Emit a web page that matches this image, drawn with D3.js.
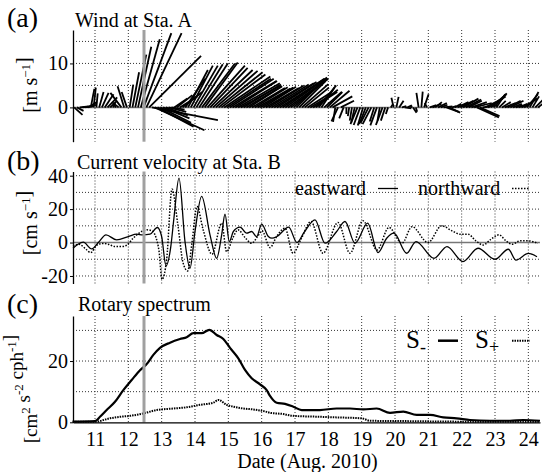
<!DOCTYPE html>
<html>
<head>
<meta charset="utf-8">
<script src="https://cdn.jsdelivr.net/npm/d3@7"></script>
<style>
  body { margin: 0; background: #fff; }
  svg { display: block; }
  text { font-family: "Liberation Serif", "Times New Roman", serif; fill: #000; }
</style>
</head>
<body>
<script>
// ---- data ----
var dayTicks = [11, 12, 13, 14, 15, 16, 17, 18, 19, 20, 21, 22, 23, 24];
var eventDay = 12.47;   // gray marker

// (a) wind sticks, 2-hourly from Aug 10 09:00 (u east, v north, m/s)
var windStart = 10.375, windStep = 1 / 12;
var windU = [
  1.9, 1.5, 2, 2.5, 2.5, 2, 0.8, 0.5, 0.3, 1, 1.5, 2,
  2.2, 1.5, 0.5, -0.5, -1.5, -2.5, -1.5, -1.2, 0.8, 1.5, 2.5, 3,
  4.3, 6.3, 8, 11.8, 15, 11.3, 8.2, 7, 6, 5, 4, 3,
  3, 3.5, 4, 4.5, 4.5, 4.5, 5, 5.5, 6, 6.5, 7.5, 7.5,
  8.5, 8.5, 9, 9.5, 10, 10, 10.5, 10, 10, 10, 9.5, 9.5,
  9, 8.5, 8, 7.5, 7.5, 7.5, 7.5, 7.5, 7.5, 7.5, 8, 8.5,
  9, 9, 9.5, 9.5, 9.5, 9, 8.5, 7.5, 6.5, 6, 6, 5.5,
  5.5, 5, 5.5, 5, 4, 3, 4, 3.5, 4.5, 4.5, -0.5, -1.5,
  3, -1, 0, -0.3, -0.5, -0.8, -1.6, -1.5, -1.2, -1.5, -1.8, -2,
  -1, -1.5, -0.5, -1.5, -1, -0.5, 0.5, -0.5, 0.5, 1, 1, 1.5,
  1, 0.5, 0.8, 0.3, -0.5, 0.3, 1, -0.5, 1.5, 2, 1.5, 2,
  1.5, 2, 2.8, 2.5, 1, 1.5, 2.5, 3, 3.5, 3.5, 3, 3.5,
  4, 5, 4.5, 3.5, 4, 4, 3.5, 3, 2, 1.5, 2, 2.5,
  3, 3, 2, 1.5, 2, 2.5, 3, 2.5, 2, 1.5, 2, 2
];
var windV = [
  -1.7, -0.8, 0.2, 0.3, 0.6, 1.2, 4.2, 4.5, 3.2, 3.5, 3.3, 3,
  2.3, 1.5, 1, 0.8, 1.2, 3.3, 4.8, 3.5, 5.2, 8, 12, 13.8,
  15.5, 16.9, 16.9, 11.7, -2.9, -5.2, -4.4, -3.5, -2.5, -1.8, -1, -0.5,
  2, 2.8, 2.5, 3.5, 6.5, 8.5, 9.5, 9.5, 9.8, 10, 10, 10.2,
  9.5, 9, 8.5, 8.3, 8, 7.5, 7, 6.5, 6.5, 6, 6, 5.5,
  5, 5.2, 4.8, 4.8, 4.4, 4.6, 4.3, 4.5, 4.7, 4.4, 5, 5.2,
  5.5, 5.8, 6, 6.5, 6.8, 6.5, 6.5, 6.5, 6.5, 6, 5.3, 4.5,
  3.5, 3, 3.5, 4, 5, 4.5, 3.5, 3.5, 3.8, 2.5, -3.3, -3.2,
  1.5, -2.5, -1.5, -2, -3, -3.5, -3.8, -4, -4.1, -3.8, -3.5, -3.8,
  -3.2, -4.1, -3, -4, -3, -1.5, 0.8, 2.2, 2.4, 1.5, 0.3, -0.2,
  0.5, 0.2, -1.2, -1, 3.3, 3.6, 3, 1, 0.5, 0.8, 1.2, 1,
  0.6, 0.2, -1, -1.2, 0.3, 0.8, 1.2, 1.5, 2, 1.8, 1.5, 1.2,
  1, -2.3, -2, 0.5, 2, 2.5, 3, 3.2, 3, 1.5, 1.2, 1,
  1.5, 1.5, 0.8, 0.5, 0.8, 1.2, 2, 3, 3.5, 2.5, 2, 1.5
];

// (b) current velocity at Sta. B (cm/s)
var eastT = [10.34, 10.49, 10.65, 10.90, 11.10, 11.33, 11.65, 12.00, 12.25, 12.43, 12.65, 12.87,
  13.00, 13.13, 13.27, 13.37, 13.52, 13.70, 13.85, 14.00, 14.20, 14.45, 14.65, 14.80, 14.90,
  15.03, 15.15, 15.35, 15.55, 15.70, 15.85, 16.00, 16.20, 16.31, 16.46, 16.81, 17.06, 17.27,
  17.60, 17.90, 18.25, 18.50, 18.80, 19.18, 19.49, 19.75, 19.97, 20.35, 20.63, 21.17, 21.56,
  22.04, 22.49, 23.00, 23.40, 23.63, 24.00, 24.26];
var eastV = [-3.4, -1, 0.2, -3.8, 0, 4.6, 1.6, 3.6, 5, 4.6, 5, 9,
  3.6, -14, -3, 15, 38.5, 0.6, -15.4, 6.6, 27.6, 4.6, -9.4, 4.6, 17,
  0.6, 6.6, 9.2, 5.6, 6.6, 3.6, 11, 3.6, 2.6, 3.6, 9.2, 0, 6,
  13.6, -0.4, 6.6, 12.6, -0.4, 11.6, -6, 2.6, 5.6, -6.4, 0.6, -9.4, -2.4,
  -11.4, -3.4, -10, -4, -10.5, -6.5, -8.5];
var northT = [10.34, 10.52, 10.73, 10.87, 11.06, 11.24, 11.39, 11.60, 11.81, 11.96, 12.14, 12.35,
  12.56, 12.71, 12.83, 12.92, 13.01, 13.15, 13.31, 13.49, 13.64, 13.78, 13.91, 14.06, 14.24,
  14.51, 14.80, 14.95, 15.14, 15.29, 15.50, 15.70, 15.89, 16.01, 16.25, 16.46, 16.70, 16.94,
  17.18, 17.48, 17.84, 18.29, 18.65, 19.04, 19.46, 19.82, 20.21, 20.51, 20.99, 21.40, 21.71,
  21.95, 22.19, 22.43, 22.64, 22.88, 23.12, 23.33, 23.51, 23.75, 23.99, 24.29];
var northV = [-2, -1, -4, -6, -1.5, -0.5, -1, -2.4, -2.4, -1.5, 2.5, 6,
  7.6, 7, 3, -5, -22, -10, 32, 10, -12, -17, 0, 21.6, 8,
  -7, 11.6, -5.5, 3, 7.6, 3, -0.4, 4, 7, -3, 4, 8.6, -6.4,
  2, 12.6, -6.4, 12, -6.4, 13, -4.4, 9, -0.4, 9.5, 0, 10, 7,
  5, 5, 1, -1.5, 2, 4.6, 1, -1, 1, 1, -0.5];

// (c) rotary spectrum (cm^2 s^-2 cph^-1)
var sMinusT = [10.33, 11.00, 11.15, 11.35, 11.60, 11.85, 12.10, 12.35, 12.55, 12.75, 12.95, 13.25,
  13.55, 13.75, 13.95, 14.20, 14.43, 14.65, 14.85, 15.05, 15.30, 15.50, 15.70, 15.95, 16.15,
  16.25, 16.45, 16.70, 16.95, 17.20, 17.75, 18.25, 18.65, 19.05, 19.45, 19.85, 20.25, 20.65,
  21.05, 21.45, 21.85, 22.25, 22.85, 23.45, 23.85, 24.35];
var sMinusV = [0.2, 0.4, 1.8, 4, 6.7, 10.5, 13.8, 17, 19, 22, 24.3, 26,
  27.2, 27.8, 29.1, 29.1, 30.2, 28.5, 27.2, 24.3, 20.9, 17.1, 14.4, 12.4, 10.5,
  8.6, 6.4, 6, 5.1, 4, 4, 4.5, 4.5, 4.2, 4.5, 3.1, 3.5, 2.4,
  2.4, 1.6, 1.3, 0.75, 0.5, 0.5, 0.75, 0.5];
var sPlusT = [10.33, 11.00, 11.45, 11.75, 12.05, 12.45, 12.85, 13.35, 13.75, 14.15, 14.55, 14.70,
  14.95, 15.15, 15.45, 15.75, 16.15, 16.25, 16.65, 16.95, 17.75, 18.25, 19.00, 19.25, 20.25,
  22.25, 24.35];
var sPlusV = [0.2, 0.2, 1.3, 1.8, 2.1, 2.9, 4, 4.5, 4.9, 5.7, 6.4, 7.3,
  5.7, 5.1, 4.5, 4.2, 3.4, 3.1, 2.7, 2.1, 1.8, 1.6, 1.3, 0.5, 0.4,
  0.2, 0.2];

// ---- layout ----
var w = 542, h = 472;
var left = 73, right = 540;

var svg = d3.select("body").append("svg")
  .attr("width", w)
  .attr("height", h);

var x = d3.scaleLinear().domain([10.34, 24.35]).range([left, right]);

var yA = d3.scaleLinear().domain([-7.8, 17.6]).range([141.7, 30]);
var yB = d3.scaleLinear().domain([-24.5, 42.5]).range([283.5, 171.5]);
var yC = d3.scaleLinear().domain([0, 34.7]).range([422.3, 316]);

var panels = [
  { y: yA, grid: [-5, 5, 10, 15], ticks: [0, 10], zero: true },
  { y: yB, grid: [-20, -10, 10, 20, 30, 40], ticks: [-20, 0, 20, 40], zero: true },
  { y: yC, grid: [10, 20, 30], ticks: [0, 20], zero: false }
];

var fmt = function(d) { return d < 0 ? "-" + Math.abs(d) : "" + d; };

panels.forEach(function(p) {
  var g = svg.append("g");
  var r = p.y.range();
  // vertical day grid
  g.selectAll(".vg").data(dayTicks).enter().append("line")
    .attr("x1", d => x(d)).attr("x2", d => x(d))
    .attr("y1", r[1]).attr("y2", r[0])
    .attr("stroke", "#333").attr("stroke-width", 1)
    .attr("stroke-dasharray", "1,2");
  // horizontal grid
  g.selectAll(".hg").data(p.grid).enter().append("line")
    .attr("x1", left).attr("x2", right)
    .attr("y1", d => p.y(d)).attr("y2", d => p.y(d))
    .attr("stroke", "#333").attr("stroke-width", 1)
    .attr("stroke-dasharray", "1,2");
  if (p.zero) {
    g.append("line")
      .attr("x1", left).attr("x2", right)
      .attr("y1", p.y(0)).attr("y2", p.y(0))
      .attr("stroke", "#777").attr("stroke-width", 1.5);
  }
});

// ---- (a) stick plot ----
var k = yA(0) - yA(1);   // px per m/s, same both directions
var sticks = windU.map(function(u, i) {
  return { t: windStart + i * windStep, u: u, v: windV[i] };
});
svg.append("g").selectAll("line").data(sticks).enter().append("line")
  .attr("x1", d => x(d.t))
  .attr("y1", yA(0))
  .attr("x2", d => x(d.t) + d.u * k)
  .attr("y2", d => yA(0) - d.v * k)
  .attr("stroke", "#000")
  .attr("stroke-width", 1.8);

// ---- (b) current lines ----
var lineB = d3.line().x(d => x(d[0])).y(d => yB(d[1])).curve(d3.curveMonotoneX);
svg.append("path")
  .datum(northT.map((t, i) => [t, northV[i]]))
  .attr("d", lineB)
  .attr("fill", "none").attr("stroke", "#000")
  .attr("stroke-width", 1.5).attr("stroke-dasharray", "1.5,1.5");
svg.append("path")
  .datum(eastT.map((t, i) => [t, eastV[i]]))
  .attr("d", lineB)
  .attr("fill", "none").attr("stroke", "#000")
  .attr("stroke-width", 1.3);

// ---- (c) spectrum lines ----
var lineC = d3.line().x(d => x(d[0])).y(d => yC(d[1])).curve(d3.curveMonotoneX);
svg.append("path")
  .datum(sPlusT.map((t, i) => [t, sPlusV[i]]))
  .attr("d", lineC)
  .attr("fill", "none").attr("stroke", "#000")
  .attr("stroke-width", 2).attr("stroke-dasharray", "1.5,1");
svg.append("path")
  .datum(sMinusT.map((t, i) => [t, sMinusV[i]]))
  .attr("d", lineC)
  .attr("fill", "none").attr("stroke", "#000")
  .attr("stroke-width", 2.2);

// ---- gray event marker ----
panels.forEach(function(p) {
  var r = p.y.range();
  svg.append("line")
    .attr("x1", x(eventDay)).attr("x2", x(eventDay))
    .attr("y1", r[1]).attr("y2", r[0])
    .attr("stroke", "#a0a0a0").attr("stroke-width", 3);
});

// ---- axes ----
panels.forEach(function(p) {
  var ax = svg.append("g")
    .attr("transform", "translate(" + left + ",0)")
    .call(d3.axisLeft(p.y).tickValues(p.ticks).tickSize(3).tickSizeOuter(0)
      .tickPadding(2).tickFormat(fmt));
  ax.select(".domain").attr("stroke-width", 1.3);
  ax.selectAll("text")
    .attr("font-family", "'Liberation Serif', 'Times New Roman', serif")
    .attr("font-size", 20).attr("fill", "#000");
});

var xa = svg.append("g")
  .attr("transform", "translate(0," + yC(0) + ")")
  .call(d3.axisBottom(x).tickValues(dayTicks).tickSize(0).tickSizeOuter(0).tickPadding(9.5));
xa.select(".domain").attr("stroke-width", 1.2);
xa.selectAll("text")
  .attr("font-family", "'Liberation Serif', 'Times New Roman', serif")
  .attr("font-size", 20).attr("fill", "#000");

svg.append("text").attr("x", (left + right) / 2 + 1).attr("y", 468)
  .attr("text-anchor", "middle").attr("font-size", 20)
  .text("Date (Aug. 2010)");

// ---- titles ----
var titles = [
  { tag: "(a)", ty: 27, name: "Wind at Sta. A", nx: 75, ny: 26.5 },
  { tag: "(b)", ty: 170, name: "Current velocity at Sta. B", nx: 77, ny: 168.5 },
  { tag: "(c)", ty: 313, name: "Rotary spectrum", nx: 78, ny: 311 }
];
titles.forEach(function(d) {
  svg.append("text").attr("x", 7).attr("y", d.ty).attr("font-size", 28).text(d.tag);
  svg.append("text").attr("x", d.nx).attr("y", d.ny).attr("font-size", 20).text(d.name);
});

// ---- y labels (rotated, with superscripts) ----
function yLabel(cy, size, parts) {
  var t = svg.append("text")
    .attr("transform", "translate(37," + cy + ") rotate(-90)")
    .attr("text-anchor", "middle").attr("font-size", size);
  parts.forEach(function(pt) {
    if (pt.sup) {
      t.append("tspan").attr("dy", -7).attr("font-size", 13).text(pt.sup);
      t.append("tspan").attr("dy", 7).text("");
    } else {
      t.append("tspan").text(pt.s);
    }
  });
}
yLabel(85, 20, [{ s: "[m s" }, { sup: "\u22121" }, { s: "]" }]);
yLabel(223, 20, [{ s: "[cm s" }, { sup: "\u22121" }, { s: "]" }]);
yLabel(389, 19, [{ s: "[cm" }, { sup: "2" }, { s: " s" }, { sup: "-2" }, { s: " cph" }, { sup: "-1" }, { s: "]" }]);

// ---- legends ----
svg.append("text").attr("x", 295).attr("y", 195).attr("font-size", 20).text("eastward");
svg.append("line").attr("x1", 378).attr("x2", 398).attr("y1", 188.5).attr("y2", 188.5)
  .attr("stroke", "#000").attr("stroke-width", 1.3);
svg.append("text").attr("x", 418).attr("y", 195).attr("font-size", 20).text("northward");
svg.append("line").attr("x1", 512).attr("x2", 530).attr("y1", 188.5).attr("y2", 188.5)
  .attr("stroke", "#000").attr("stroke-width", 1.5).attr("stroke-dasharray", "1.5,1.5");

var sm = svg.append("text").attr("x", 406).attr("y", 348).attr("font-size", 25);
sm.append("tspan").text("S");
sm.append("tspan").attr("dy", 5).attr("font-size", 18).text("-");
svg.append("line").attr("x1", 438).attr("x2", 458).attr("y1", 340.7).attr("y2", 340.7)
  .attr("stroke", "#000").attr("stroke-width", 2.5);
var sp = svg.append("text").attr("x", 475).attr("y", 348).attr("font-size", 25);
sp.append("tspan").text("S");
sp.append("tspan").attr("dy", 5).attr("font-size", 18).text("+");
svg.append("line").attr("x1", 512).attr("x2", 530).attr("y1", 340.7).attr("y2", 340.7)
  .attr("stroke", "#000").attr("stroke-width", 2).attr("stroke-dasharray", "1.5,1");
</script>
</body>
</html>
